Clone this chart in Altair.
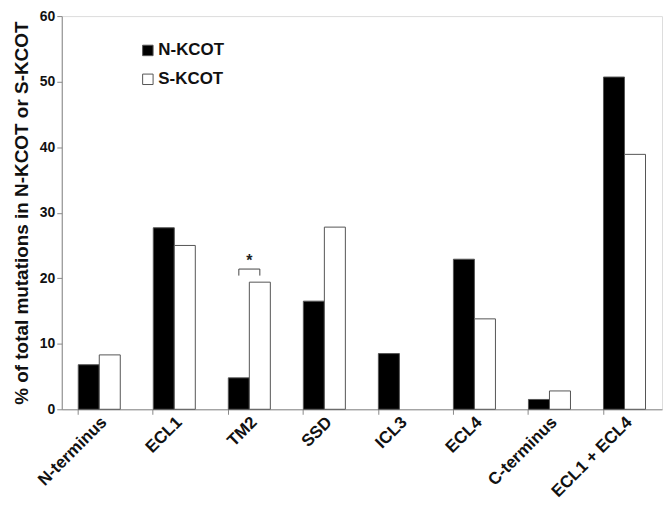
import altair as alt
import pandas as pd

categories = ["N-terminus", "ECL1", "TM2", "SSD", "ICL3", "ECL4", "C-terminus", "ECL1 + ECL4"]
n_kcot = [6.8, 27.7, 4.8, 16.5, 8.5, 22.9, 1.5, 50.7]
s_kcot = [8.3, 25.0, 19.4, 27.8, 0.0, 13.8, 2.8, 38.9]
series = ["N-KCOT", "S-KCOT"]

rows = []
for c, n, s in zip(categories, n_kcot, s_kcot):
    rows.append({"region": c, "group": "N-KCOT", "pct": n})
    rows.append({"region": c, "group": "S-KCOT", "pct": s})
df = pd.DataFrame(rows)

# significance bracket over TM2
bracket_y = [20.4, 21.4, 21.4, 20.4]
bracket_grp = ["N-KCOT", "N-KCOT", "S-KCOT", "S-KCOT"]
bracket = pd.DataFrame({"region": ["TM2"] * 4, "group": bracket_grp, "pct": bracket_y, "order": [0, 1, 2, 3]})
star = pd.DataFrame({"region": ["TM2"], "pct": [22.6], "label": ["*"]})

FONT = "Liberation Sans"

x_axis = alt.Axis(labelAngle=-45, labelAlign="right", labelBaseline="middle",
                  labelFont=FONT, labelFontSize=17, labelFontWeight="bold",
                  labelColor="#111", labelPadding=5, labelOffset=5,
                  bandPosition=0, ticks=True, tickSize=5, tickColor="#888",
                  domainColor="#888", grid=False)
x_scale = alt.Scale(paddingInner=0.44, paddingOuter=0.22)
x_enc = alt.X("region:N", sort=categories, title=None, scale=x_scale, axis=x_axis)

y_axis = alt.Axis(values=[0, 10, 20, 30, 40, 50, 60], grid=False,
                  labelFont=FONT, labelFontSize=14, labelFontWeight="bold",
                  labelColor="#111", tickSize=5, tickColor="#888",
                  domainColor="#888", titleFont=FONT, titleFontSize=19,
                  titleFontWeight="bold", titleColor="#111", titlePadding=8)
y_enc = alt.Y("pct:Q", title="% of total mutations in N-KCOT or S-KCOT",
              scale=alt.Scale(domain=[0, 60], nice=False), axis=y_axis)

off_enc = alt.XOffset("group:N", sort=series, scale=alt.Scale(domain=series))

bars = alt.Chart(df).transform_filter("datum.pct > 0").mark_bar(stroke="#555", strokeWidth=1).encode(
    x=x_enc,
    xOffset=off_enc,
    y=y_enc,
    fill=alt.Fill("group:N", sort=series,
                  scale=alt.Scale(domain=series, range=["#000000", "#ffffff"]),
                  legend=alt.Legend(title=None, orient="none", legendX=78, legendY=26,
                                    symbolType="square", symbolSize=110,
                                    symbolStrokeColor="#555", symbolStrokeWidth=1,
                                    labelFont=FONT, labelFontSize=17, labelFontWeight="bold",
                                    labelColor="#111", rowPadding=11, labelOffset=2)),
)

bline = alt.Chart(bracket).mark_line(color="#444", strokeWidth=1).encode(
    x=x_enc,
    xOffset=off_enc,
    y=y_enc,
    order="order:Q",
)

stext = alt.Chart(star).mark_text(font=FONT, fontSize=16, fontWeight="bold", color="#222", baseline="middle").encode(
    x=x_enc,
    y=y_enc,
    text="label:N",
)

chart = alt.layer(bars, bline, stext).properties(
    width=603, height=395,
    autosize=alt.AutoSizeParams(type="none"),
    padding={"left": 54, "top": 7, "right": 2, "bottom": 93},
).configure_view(stroke=None).configure(background="white")

chart.save("out.html", embed_options={"renderer": "svg", "actions": False})
